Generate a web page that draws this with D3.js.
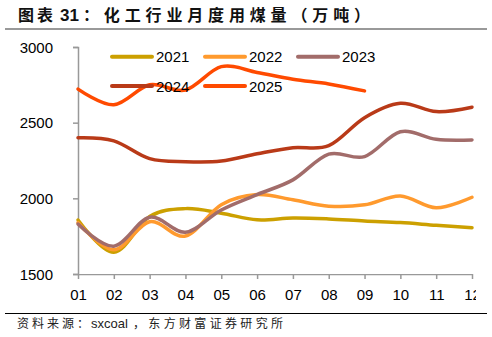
<!DOCTYPE html>
<html><head><meta charset="utf-8">
<script src="https://cdn.jsdelivr.net/npm/d3@7"></script>
<style>body{margin:0;background:#fff}svg{display:block}</style>
</head><body>
<script>
const months = ["01","02","03","04","05","06","07","08","09","10","11","12"];
const yTicks = [1500, 2000, 2500, 3000];
const s2021 = [1857,1643,1880,1932,1902,1858,1870,1864,1850,1840,1822,1806];
const s2022 = [1840,1660,1845,1751,1958,2025,1990,1948,1957,2016,1938,2007];
const s2023 = [1830,1684,1875,1776,1923,2025,2122,2292,2276,2440,2390,2386];
const s2024 = [2400,2380,2262,2242,2246,2294,2335,2348,2533,2628,2573,2602];
const s2025 = [2722,2618,2750,2716,2870,2832,2787,2756,2710];
const seriesNames = ["2021","2022","2023","2024","2025"];
const seriesData = [s2021,s2022,s2023,s2024,s2025];
const colors = ["#CCA000","#FF9A2E","#A26C6A","#B93A18","#FF4A00"];

const W=492,H=337;
const svg=d3.select("body").append("svg").attr("width",W).attr("height",H);
const font="Liberation Sans, Arial, sans-serif";
const cjk="'Noto Sans CJK SC', sans-serif";

// title
const t=svg.append("text").attr("y",20.5)
  .attr("font-family",cjk).attr("font-size",16).attr("font-weight","bold").attr("fill","#111");
t.append("tspan").attr("x",18).attr("textLength",35).attr("lengthAdjust","spacing").text("图表");
t.append("tspan").attr("x",60).attr("font-family",font).attr("font-size",17).text("31");
t.append("tspan").attr("x",83).attr("textLength",287).attr("lengthAdjust","spacing").text("：化工行业月度用煤量（万吨）");
svg.append("line").attr("x1",5).attr("x2",487).attr("y1",29).attr("y2",29)
  .attr("stroke","#999").attr("stroke-width",2);

// footer
svg.append("line").attr("x1",5).attr("x2",487).attr("y1",313.5).attr("y2",313.5)
  .attr("stroke","#000").attr("stroke-width",1);
const f=svg.append("text").attr("y",328).attr("font-family",cjk).attr("font-size",12).attr("fill","#222");
f.append("tspan").attr("x",17).attr("textLength",72).attr("lengthAdjust","spacing").text("资料来源：");
f.append("tspan").attr("x",91).attr("font-family",font).attr("font-size",13).text("sxcoal");
f.append("tspan").attr("x",133).attr("textLength",150).attr("lengthAdjust","spacing").text("，东方财富证券研究所");

const x=d3.scalePoint().domain(months).range([78,472]);
const y=d3.scaleLinear().domain([1500,3000]).range([274,47]);

svg.append("defs").append("clipPath").attr("id","clipR")
  .append("rect").attr("x",0).attr("y",0).attr("width",476).attr("height",H);

// axes
const ya=svg.append("g").attr("transform","translate(78,0)")
  .call(d3.axisLeft(y).tickValues(yTicks).tickSize(5).tickPadding(20).tickFormat(d3.format("d")));
ya.select(".domain").attr("stroke","#999").attr("stroke-width",1.5);
ya.selectAll(".tick line").attr("stroke","#999").attr("stroke-width",1.5);
ya.selectAll("text").attr("font-family",font).attr("font-size",15).attr("fill","#000").attr("dy","0.35em");

const xa=svg.append("g").attr("transform","translate(0,274)").attr("clip-path","url(#clipR)")
  .call(d3.axisBottom(x).tickSize(5).tickPadding(10).tickSizeOuter(0));
xa.select(".domain").attr("stroke","#999").attr("stroke-width",1.5);
xa.selectAll(".tick line").attr("stroke","#999").attr("stroke-width",1.5);
xa.selectAll("text").attr("font-family",font).attr("font-size",15).attr("fill","#000");

// lines
const line=d3.line().x((d,i)=>x(months[i])).y(d=>y(d)).curve(d3.curveCatmullRom.alpha(0));
seriesData.forEach((s,k)=>{
  svg.append("path").datum(s).attr("d",line).attr("fill","none")
    .attr("stroke",colors[k]).attr("stroke-width",3.5).attr("stroke-linecap","round");
});

// legend
const legPos=[[112,56.7],[205,56.7],[298,56.7],[112,86],[205,86]];
seriesNames.forEach((n,k)=>{
  const [lx,ly]=legPos[k];
  svg.append("line").attr("x1",lx).attr("x2",lx+40).attr("y1",ly).attr("y2",ly)
    .attr("stroke",colors[k]).attr("stroke-width",4).attr("stroke-linecap","round");
  svg.append("text").attr("x",lx+44).attr("y",ly+5.5).attr("font-family",font)
    .attr("font-size",15).attr("fill","#000").text(n);
});
</script>
</body></html>
